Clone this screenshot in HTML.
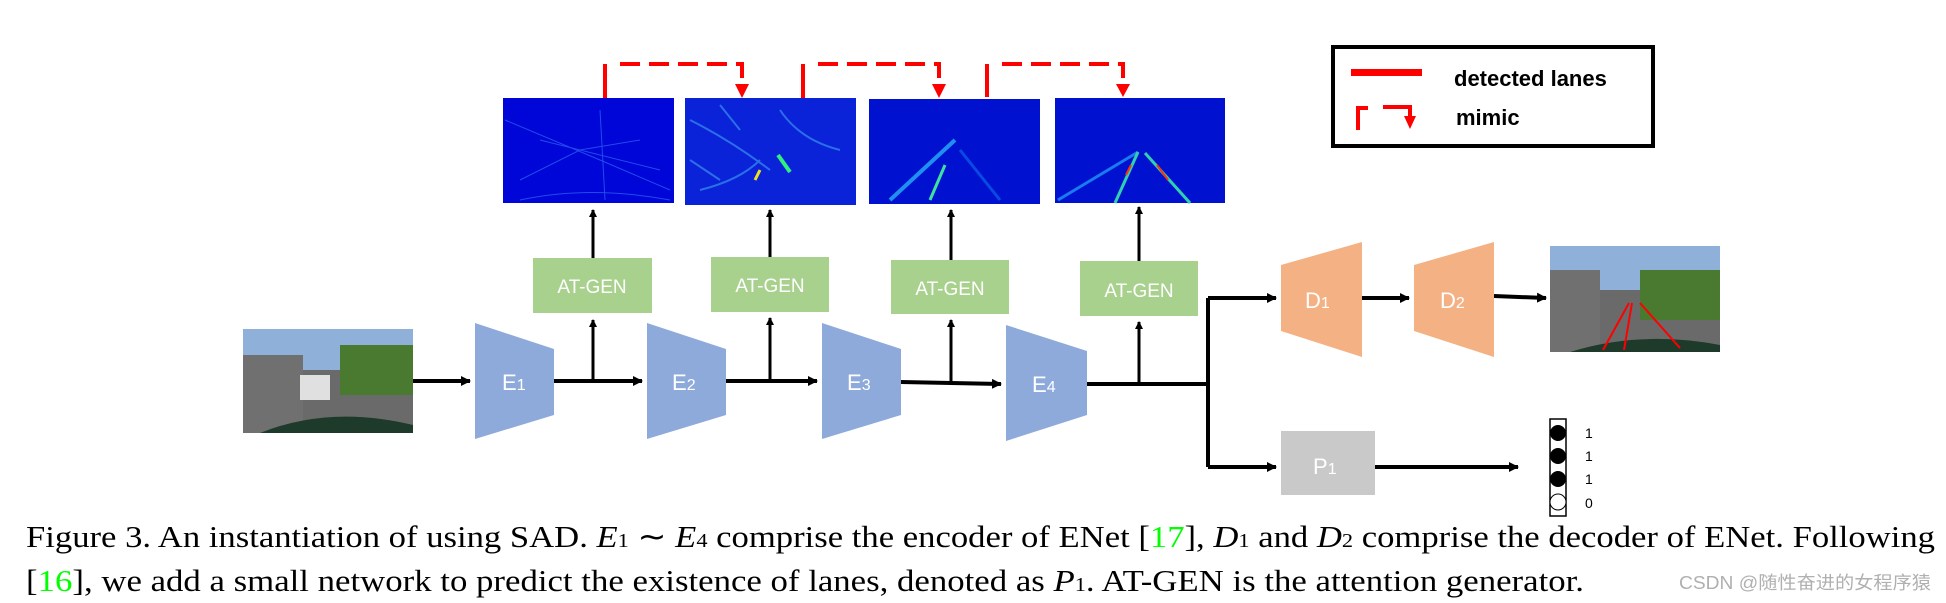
<!DOCTYPE html>
<html><head><meta charset="utf-8"><style>
html,body{margin:0;padding:0;background:#fff;}
svg{display:block;}
</style></head><body>
<svg width="1946" height="603" viewBox="0 0 1946 603" xmlns="http://www.w3.org/2000/svg">
<defs>
<marker id="ab" markerWidth="8" markerHeight="8" refX="7" refY="4" orient="auto" markerUnits="userSpaceOnUse"><path d="M0,0 L8,4 L0,8 z" fill="#000"/></marker>
<marker id="ab2" viewBox="0 0 10 10" markerWidth="10" markerHeight="12" refX="9" refY="5" orient="auto" markerUnits="userSpaceOnUse"><path d="M0,0 L10,5 L0,10 z" fill="#000"/></marker>
<radialGradient id="hm" cx="50%" cy="50%" r="70%"><stop offset="0" stop-color="#0a2ad8"/><stop offset="1" stop-color="#0010c8"/></radialGradient>
</defs>

<!-- heatmaps -->
<rect x="503" y="98" width="171" height="105" fill="#0006d8"/>
<g stroke="#2a5cf0" stroke-width="1" fill="none" opacity="0.8">
<path d="M505 120 L600 160 L670 190"/><path d="M520 180 L580 150 L640 140"/><path d="M600 110 L605 200"/><path d="M540 140 L660 170"/><path d="M520 200 Q590 185 670 200"/>
</g>
<rect x="685" y="98" width="171" height="107" fill="#0a22d8"/>
<g stroke="#3a90f0" stroke-width="2" fill="none" opacity="0.7">
<path d="M690 120 Q730 140 770 170"/><path d="M700 190 Q740 180 760 160"/><path d="M780 110 Q800 140 840 150"/><path d="M720 105 L740 130"/><path d="M690 160 L720 180"/>
</g>
<path d="M760 170 L755 180" stroke="#f0e020" stroke-width="3"/><path d="M778 155 L790 172" stroke="#30f080" stroke-width="4"/>
<rect x="869" y="99" width="171" height="105" fill="#0012d0"/>
<path d="M890 200 L955 140" stroke="#2090f0" stroke-width="4"/><path d="M945 165 L930 200" stroke="#40e0a0" stroke-width="3"/>
<path d="M960 150 L1000 200" stroke="#1070f0" stroke-width="3" opacity="0.6"/>
<rect x="1055" y="98" width="170" height="105" fill="#0012d0"/>
<path d="M1058 200 L1138 152" stroke="#1a7af0" stroke-width="3"/>
<path d="M1138 152 L1115 203" stroke="#30d0b0" stroke-width="3"/>
<path d="M1145 153 L1190 203" stroke="#30d0b0" stroke-width="3"/>
<path d="M1131 165 L1126 175" stroke="#ff3010" stroke-width="2"/><path d="M1157 165 L1168 180" stroke="#ff3010" stroke-width="2"/>

<!-- red mimic dashed -->
<g stroke="#f00" stroke-width="4" fill="none">
<path d="M605 98 L605 64"/><path d="M620 64 L742 64 L742 78" stroke-dasharray="20,9"/>
<path d="M803 98 L803 64"/><path d="M818 64 L939 64 L939 78" stroke-dasharray="20,9"/>
<path d="M987 97 L987 64"/><path d="M1002 64 L1123 64 L1123 78" stroke-dasharray="20,9"/>
</g>
<g fill="#f00"><path d="M735 84 L749 84 L742 98 z"/><path d="M932 84 L946 84 L939 98 z"/><path d="M1116 84 L1130 84 L1123 97 z"/></g>

<!-- legend -->
<rect x="1333" y="47" width="320" height="99" fill="none" stroke="#000" stroke-width="4"/>
<rect x="1351" y="69" width="71" height="7" fill="#f00"/>
<text x="1454" y="86" font-family="Liberation Sans, sans-serif" font-weight="bold" font-size="22" fill="#000">detected lanes</text>
<path d="M1358 130 L1358 108 L1368 108" stroke="#f00" stroke-width="4" fill="none"/>
<path d="M1383 107 L1410 107 L1410 116" stroke="#f00" stroke-width="4" fill="none"/>
<path d="M1404 116 L1416 116 L1410 129 z" fill="#f00"/>
<text x="1456" y="125" font-family="Liberation Sans, sans-serif" font-weight="bold" font-size="22" fill="#000">mimic</text>

<!-- input image -->
<rect x="243" y="329" width="170" height="104" fill="#8fb0d8"/>
<rect x="243" y="370" width="170" height="63" fill="#6a6a6a"/>
<rect x="340" y="345" width="73" height="50" fill="#4a7a30"/>
<rect x="243" y="355" width="60" height="78" fill="#707070"/>
<rect x="300" y="375" width="30" height="25" fill="#e0e0e0"/>
<path d="M260 433 Q330 405 413 425 L413 433 z" fill="#1e3a2a"/>

<!-- main line -->
<g stroke="#000" stroke-width="4" fill="none">
<path d="M413 381 L470 381" marker-end="url(#ab2)"/>
<path d="M554 381 L642 381" marker-end="url(#ab2)"/>
<path d="M726 381 L817 381" marker-end="url(#ab2)"/>
<path d="M901 382 L1001 384" marker-end="url(#ab2)"/>
<path d="M1087 384 L1208 384"/>
<path d="M1208 298 L1208 467"/>
<path d="M1208 298 L1276 298" marker-end="url(#ab2)"/>
<path d="M1208 467 L1276 467" marker-end="url(#ab2)"/>
<path d="M1362 298 L1409 298" marker-end="url(#ab2)"/>
<path d="M1494 296 L1546 298" marker-end="url(#ab2)"/>
<path d="M1375 467 L1518 467" marker-end="url(#ab2)"/>
</g>
<g stroke="#000" stroke-width="3" fill="none">
<path d="M593 381 L593 320" marker-end="url(#ab)"/><path d="M593 258 L593 210" marker-end="url(#ab)"/>
<path d="M770 381 L770 318" marker-end="url(#ab)"/><path d="M770 257 L770 210" marker-end="url(#ab)"/>
<path d="M951 382 L951 320" marker-end="url(#ab)"/><path d="M951 261 L951 210" marker-end="url(#ab)"/>
<path d="M1139 384 L1139 322" marker-end="url(#ab)"/><path d="M1139 261 L1139 207" marker-end="url(#ab)"/>
</g>

<!-- encoders -->
<g fill="#8eaadb">
<path d="M475 323 L554 349 L554 415 L475 439 z"/>
<path d="M647 323 L726 349 L726 415 L647 439 z"/>
<path d="M822 323 L901 349 L901 415 L822 439 z"/>
<path d="M1006 325 L1087 351 L1087 415 L1006 441 z"/>
</g>
<g font-family="Liberation Sans, sans-serif" font-size="22" fill="#fff">
<text x="502" y="390">E<tspan font-size="16">1</tspan></text>
<text x="672" y="390">E<tspan font-size="16">2</tspan></text>
<text x="847" y="390">E<tspan font-size="16">3</tspan></text>
<text x="1032" y="392">E<tspan font-size="16">4</tspan></text>
</g>

<!-- AT-GEN -->
<g fill="#a9d18e">
<rect x="533" y="258" width="119" height="55"/>
<rect x="711" y="257" width="118" height="55"/>
<rect x="891" y="260" width="118" height="54"/>
<rect x="1080" y="261" width="118" height="55"/>
</g>
<g font-family="Liberation Sans, sans-serif" font-size="19" fill="#fff" text-anchor="middle">
<text x="592" y="293">AT-GEN</text>
<text x="770" y="292">AT-GEN</text>
<text x="950" y="295">AT-GEN</text>
<text x="1139" y="297">AT-GEN</text>
</g>

<!-- decoders -->
<g fill="#f4b183">
<path d="M1281 265 L1362 242 L1362 357 L1281 331 z"/>
<path d="M1414 265 L1494 242 L1494 357 L1414 331 z"/>
</g>
<g font-family="Liberation Sans, sans-serif" font-size="22" fill="#fff">
<text x="1305" y="308">D<tspan font-size="16">1</tspan></text>
<text x="1440" y="308">D<tspan font-size="16">2</tspan></text>
</g>

<!-- output image -->
<rect x="1550" y="246" width="170" height="106" fill="#8fb0d8"/>
<rect x="1550" y="290" width="170" height="62" fill="#6a6a6a"/>
<rect x="1640" y="270" width="80" height="50" fill="#4a7a30"/>
<rect x="1550" y="270" width="50" height="82" fill="#707070"/>
<path d="M1570 352 Q1640 330 1720 345 L1720 352 z" fill="#1e3a2a"/>
<g stroke="#f00" stroke-width="2"><path d="M1603 350 L1629 303"/><path d="M1624 350 L1632 303"/><path d="M1680 348 L1640 303"/></g>

<!-- P1 -->
<rect x="1281" y="431" width="94" height="64" fill="#c9c9c9"/>
<text x="1313" y="474" font-family="Liberation Sans, sans-serif" font-size="22" fill="#fff">P<tspan font-size="16">1</tspan></text>

<!-- existence -->
<rect x="1550" y="419" width="16" height="97" fill="none" stroke="#000" stroke-width="1.5"/>
<circle cx="1558" cy="433" r="8"/><circle cx="1558" cy="456" r="8"/><circle cx="1558" cy="479" r="8"/>
<circle cx="1558" cy="502" r="8" fill="#fff" stroke="#000" stroke-width="1"/>
<g font-family="Liberation Sans, sans-serif" font-size="14" fill="#000">
<text x="1585" y="438">1</text><text x="1585" y="461">1</text><text x="1585" y="484">1</text><text x="1585" y="508">0</text>
</g>

<!-- caption -->
<text x="26" y="547" font-family="Liberation Serif, serif" font-size="31" fill="#000" textLength="1909" lengthAdjust="spacingAndGlyphs">Figure 3. An instantiation of using SAD. <tspan font-style="italic">E</tspan><tspan font-size="20">1</tspan> ∼ <tspan font-style="italic">E</tspan><tspan font-size="20">4</tspan> comprise the encoder of ENet [<tspan fill="#00ff00">17</tspan>], <tspan font-style="italic">D</tspan><tspan font-size="20">1</tspan> and <tspan font-style="italic">D</tspan><tspan font-size="20">2</tspan> comprise the decoder of ENet. Following</text>
<text x="26" y="591" font-family="Liberation Serif, serif" font-size="31" fill="#000" textLength="1558" lengthAdjust="spacingAndGlyphs">[<tspan fill="#00ff00">16</tspan>], we add a small network to predict the existence of lanes, denoted as <tspan font-style="italic">P</tspan><tspan font-size="20">1</tspan>. AT-GEN is the attention generator.</text>
<text x="1679" y="589" font-family="Liberation Sans, 'Noto Sans CJK SC', sans-serif" font-size="18" fill="#b0b0b0" textLength="252" lengthAdjust="spacingAndGlyphs">CSDN @随性奋进的女程序猿</text>
</svg>
</body></html>
